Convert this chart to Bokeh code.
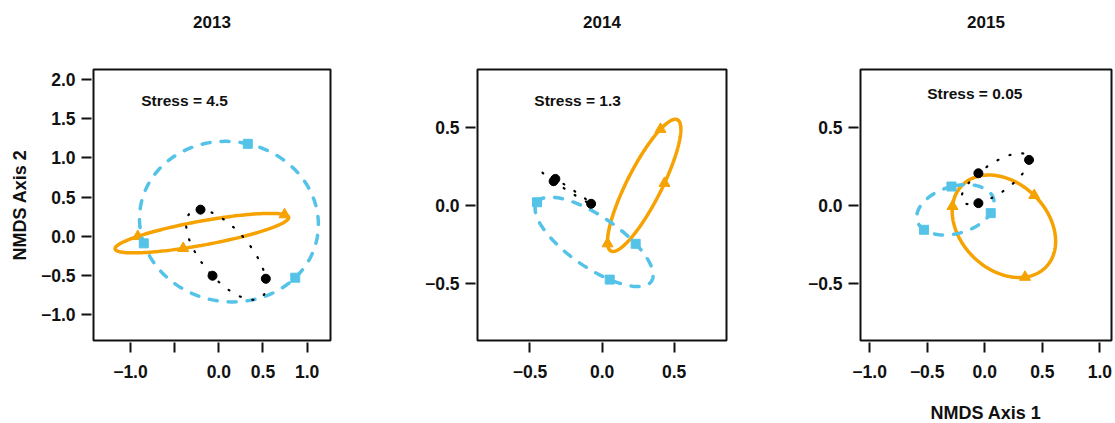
import numpy as np
from bokeh.plotting import figure
from bokeh.layouts import row
from bokeh.models import Range1d, FixedTicker, Label, LinearAxis
from bokeh.embed import file_html
from bokeh.resources import INLINE

# ---------------- data ----------------
years = ["2013", "2014", "2015"]
stress_labels = ["Stress = 4.5", "Stress = 1.3", "Stress = 0.05"]

# NMDS coordinates of the three groups, one list per axis and year
black_x_2013 = [-0.207, -0.071, 0.532]
black_y_2013 = [0.341, -0.502, -0.540]
orange_x_2013 = [-0.917, -0.403, 0.744]
orange_y_2013 = [0.000, -0.153, 0.277]
blue_x_2013 = [0.328, -0.849, 0.865]
blue_y_2013 = [1.180, -0.089, -0.527]

black_x_2014 = [-0.336, -0.324, -0.076]
black_y_2014 = [0.156, 0.171, 0.011]
orange_x_2014 = [0.405, 0.433, 0.038]
orange_y_2014 = [0.490, 0.143, -0.245]
blue_x_2014 = [-0.451, 0.233, 0.053]
blue_y_2014 = [0.021, -0.246, -0.476]

black_x_2015 = [-0.055, -0.055, 0.385]
black_y_2015 = [0.207, 0.015, 0.293]
orange_x_2015 = [-0.280, 0.430, 0.350]
orange_y_2015 = [-0.005, 0.065, -0.460]
blue_x_2015 = [-0.289, -0.527, 0.052]
blue_y_2015 = [0.122, -0.156, -0.049]

x_ticks_2013 = [-1.0, -0.5, 0.0, 0.5, 1.0]
x_tick_labels_2013 = ["\u22121.0", "", "0.0", "0.5", "1.0"]
y_ticks_2013 = [-1.0, -0.5, 0.0, 0.5, 1.0, 1.5, 2.0]
y_tick_labels_2013 = ["\u22121.0", "\u22120.5", "0.0", "0.5", "1.0", "1.5", "2.0"]

x_ticks_2014 = [-0.5, 0.0, 0.5]
x_tick_labels_2014 = ["\u22120.5", "0.0", "0.5"]
y_ticks_2014 = [-0.5, 0.0, 0.5]
y_tick_labels_2014 = ["\u22120.5", "0.0", "0.5"]

x_ticks_2015 = [-1.0, -0.5, 0.0, 0.5, 1.0]
x_tick_labels_2015 = ["\u22121.0", "\u22120.5", "0.0", "0.5", "1.0"]
y_ticks_2015 = [-0.5, 0.0, 0.5]
y_tick_labels_2015 = ["\u22120.5", "0.0", "0.5"]

# ---------------- style ----------------
FONT = "Liberation Sans"
BLUE = "#55C3E8"
ORANGE = "#F5A202"
INK = "#111111"
FRAME_H = 271
TOP = 69


def hull(xs, ys, n=241):
    """Minimum-area ellipse enclosing three points (Steiner circumellipse)."""
    a = np.array([xs[0], ys[0]])
    b = np.array([xs[1], ys[1]])
    c = np.array([xs[2], ys[2]])
    g = (a + b + c) / 3.0
    u = a - g
    v = (b - c) / np.sqrt(3.0)
    t = np.linspace(0, 2 * np.pi, n)
    pts = g[:, None] + u[:, None] * np.cos(t) + v[:, None] * np.sin(t)
    return pts[0], pts[1]


def panel(year, stress, groups, xr, yr, xt, xtl, yt, ytl, stress_xy,
          bl, fw, br, ylabel=None, xlabel=None):
    p = figure(frame_width=fw, frame_height=FRAME_H,
               min_border_left=bl, min_border_right=br,
               min_border_top=TOP, min_border_bottom=83,
               x_range=Range1d(*xr), y_range=Range1d(*yr),
               output_backend="svg", toolbar_location=None, tools="")
    p.grid.visible = False
    p.outline_line_color = INK
    p.outline_line_width = 2
    p.background_fill_color = "white"
    p.border_fill_color = "white"

    for ax, ticks, labels in ((p.xaxis[0], xt, xtl), (p.yaxis[0], yt, ytl)):
        ax.ticker = FixedTicker(ticks=ticks)
        ax.major_label_overrides = {float(k): v for k, v in zip(ticks, labels)}
        ax.axis_line_color = None
        ax.major_tick_line_color = INK
        ax.major_tick_line_width = 2
        ax.major_tick_in = -2
        ax.major_tick_out = 12
        ax.minor_tick_line_color = None
        ax.major_label_text_font = FONT
        ax.major_label_text_font_style = "bold"
        ax.major_label_text_font_size = "17.5px"
        ax.major_label_text_color = INK
        ax.axis_label_text_font = FONT
        ax.axis_label_text_font_style = "bold"
        ax.axis_label_text_font_size = "18px"
        ax.axis_label_text_color = INK
    p.xaxis[0].major_label_standoff = 12
    p.yaxis[0].major_label_standoff = 6
    if ylabel:
        p.yaxis[0].axis_label = ylabel
        p.yaxis[0].axis_label_standoff = 8
    if xlabel:
        p.xaxis[0].axis_label = xlabel
        p.xaxis[0].axis_label_standoff = 22

    # panel title: label of a tick-less axis above the frame
    top = LinearAxis(ticker=FixedTicker(ticks=[]), axis_label=year,
                     axis_line_color=None, major_tick_in=0, major_tick_out=0,
                     minor_tick_in=0, minor_tick_out=0,
                     major_label_standoff=0, axis_label_standoff=42,
                     axis_label_text_font=FONT,
                     axis_label_text_font_style="bold",
                     axis_label_text_font_size="17px",
                     axis_label_text_color=INK)
    p.add_layout(top, "above")

    (bx, by), (ox, oy), (cx, cy) = groups

    ex, ey = hull(ox, oy)
    p.line(ex, ey, line_color=ORANGE, line_width=3.5)
    p.scatter(ox, oy, marker="triangle", size=11, color=ORANGE)

    ex, ey = hull(cx, cy)
    p.line(ex, ey, line_color=BLUE, line_width=3.5, line_dash="8 11",
           line_cap="round")
    p.scatter(cx, cy, marker="square", size=9, color=BLUE)

    ex, ey = hull(bx, by)
    p.line(ex, ey, line_color="black", line_width=2.2, line_dash="1 12",
           line_cap="round")
    p.scatter(bx, by, marker="circle", size=9, color="black")

    p.add_layout(Label(x=stress_xy[0], y=stress_xy[1], text=stress,
                       text_align="left", text_baseline="middle",
                       text_font=FONT, text_font_style="bold",
                       text_font_size="15.5px", text_color=INK))
    return p


p1 = panel(years[0], stress_labels[0],
           ((black_x_2013, black_y_2013), (orange_x_2013, orange_y_2013),
            (blue_x_2013, blue_y_2013)),
           (-1.418, 1.264), (-1.328, 2.128),
           x_ticks_2013, x_tick_labels_2013, y_ticks_2013, y_tick_labels_2013,
           (-0.878, 1.736), 93, 237, 70, ylabel="NMDS Axis 2")
p2 = panel(years[1], stress_labels[1],
           ((black_x_2014, black_y_2014), (orange_x_2014, orange_y_2014),
            (blue_x_2014, blue_y_2014)),
           (-0.864, 0.863), (-0.867, 0.8735),
           x_ticks_2014, x_tick_labels_2014, y_ticks_2014, y_tick_labels_2014,
           (-0.47, 0.674), 77, 249, 64)
p3 = panel(years[2], stress_labels[2],
           ((black_x_2015, black_y_2015), (orange_x_2015, orange_y_2015),
            (blue_x_2015, blue_y_2015)),
           (-1.079, 1.101), (-0.867, 0.8735),
           x_ticks_2015, x_tick_labels_2015, y_ticks_2015, y_tick_labels_2015,
           (-0.50, 0.717), 70, 251, 2, xlabel="NMDS Axis 1")

layout = row(p1, p2, p3)
open("out.html", "w").write(file_html(layout, INLINE))
